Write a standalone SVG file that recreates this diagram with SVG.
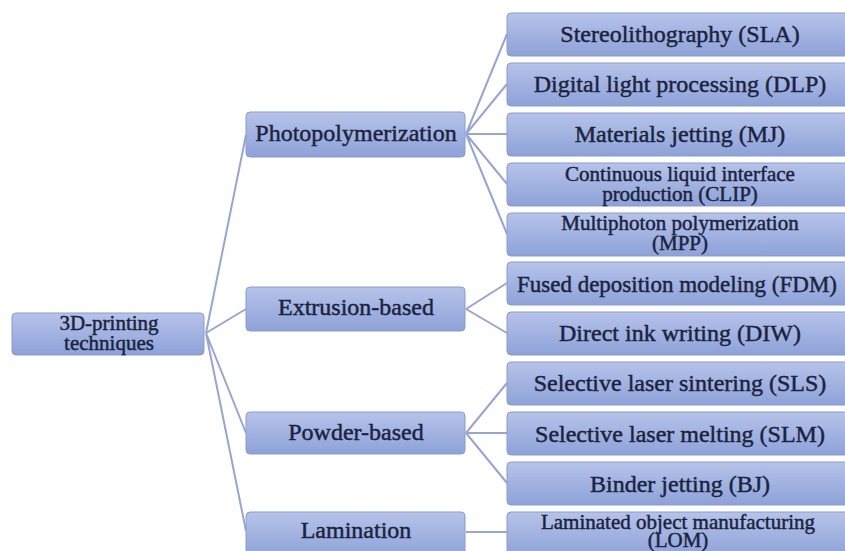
<svg xmlns="http://www.w3.org/2000/svg" width="845" height="551" viewBox="0 0 845 551">
<defs>
<linearGradient id="g" x1="0" y1="0" x2="0" y2="1">
<stop offset="0" stop-color="#b6c3ea"/>
<stop offset="1" stop-color="#8ea2d8"/>
</linearGradient>
<style>
.b{fill:url(#g);stroke:#8b9bcb;stroke-width:1}
.t{font-family:"Liberation Serif","Times New Roman",serif;font-size:24px;fill:#1a2340;stroke:#1a2340;stroke-width:0.45;text-anchor:middle}
.s{font-size:21px}
.c{stroke:#97a6d0;stroke-width:2;fill:none}
</style>
</defs>
<rect width="845" height="551" fill="#ffffff"/>
<g id="connectors" class="c">
<path d="M206 333 L246 135 M206 333 L246 309 M206 333 L246 433 M206 333 L246 531"/>
<path d="M466 134 L507 34 M466 134 L507 84 M466 134 L507 134 M466 134 L507 184 M466 134 L507 234"/>
<path d="M466 309 L507 283 M466 309 L507 333"/>
<path d="M466 433 L507 383 M466 433 L507 433 M466 433 L507 483"/>
<path d="M466 532 L507 532"/>
</g>
<g id="root"><rect class="b" x="12" y="313" width="192" height="42" rx="4"/><text class="t s" x="109" y="330">3D-printing</text><text class="t s" x="109" y="350">techniques</text></g>
<g id="photo"><rect class="b" x="246" y="112" width="219" height="45" rx="4"/><text class="t" x="356" y="141">Photopolymerization</text></g>
<g id="extrusion"><rect class="b" x="246" y="287" width="219" height="44" rx="4"/><text class="t" x="356" y="315">Extrusion-based</text></g>
<g id="powder"><rect class="b" x="246" y="412" width="219" height="42" rx="4"/><text class="t" x="356" y="440">Powder-based</text></g>
<g id="lamination"><rect class="b" x="246" y="512" width="219" height="45" rx="4"/><text class="t" x="356" y="538">Lamination</text></g>
<g id="sla"><rect class="b" x="507" y="13" width="345" height="43" rx="4"/><text class="t" x="680" y="42">Stereolithography  (SLA)</text></g>
<g id="dlp"><rect class="b" x="507" y="63" width="345" height="43" rx="4"/><text class="t" x="680" y="92">Digital light processing (DLP)</text></g>
<g id="mj"><rect class="b" x="507" y="113" width="345" height="43" rx="4"/><text class="t" x="680" y="142">Materials jetting (MJ)</text></g>
<g id="clip"><rect class="b" x="507" y="163" width="345" height="43" rx="4"/><text class="t s" x="680" y="181">Continuous liquid interface</text><text class="t s" x="680" y="201">production (CLIP)</text></g>
<g id="mpp"><rect class="b" x="507" y="213" width="345" height="43" rx="4"/><text class="t s" x="680" y="230">Multiphoton polymerization</text><text class="t s" x="680" y="250">(MPP)</text></g>
<g id="fdm"><rect class="b" x="507" y="262" width="345" height="43" rx="4"/><text class="t" x="677" y="292" style="font-size:23px">Fused deposition modeling (FDM)</text></g>
<g id="diw"><rect class="b" x="507" y="312" width="345" height="43" rx="4"/><text class="t" x="680" y="341">Direct ink writing (DIW)</text></g>
<g id="sls"><rect class="b" x="507" y="362" width="345" height="43" rx="4"/><text class="t" x="680" y="391">Selective laser sintering (SLS)</text></g>
<g id="slm"><rect class="b" x="507" y="412" width="345" height="43" rx="4"/><text class="t" x="680" y="442">Selective laser melting (SLM)</text></g>
<g id="bj"><rect class="b" x="507" y="462" width="345" height="43" rx="4"/><text class="t" x="680" y="492">Binder jetting (BJ)</text></g>
<g id="lom"><rect class="b" x="507" y="512" width="345" height="45" rx="4"/><text class="t s" x="678" y="529">Laminated object manufacturing</text><text class="t s" x="678" y="547">(LOM)</text></g>
</svg>
